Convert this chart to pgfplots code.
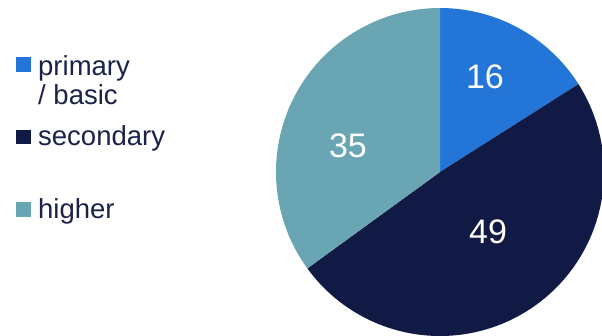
\documentclass[border=0pt]{standalone}
\usepackage{pgfplots}
\pgfplotsset{compat=1.18}
\usepackage{pgfplotstable}
\usepackage{fontspec}
\setmainfont{Liberation Sans}
\definecolor{cprim}{HTML}{2475D8}
\definecolor{csec}{HTML}{111A44}
\definecolor{chigh}{HTML}{6AA5B3}
\definecolor{ctext}{HTML}{1B2249}
\pgfplotstableread{
label value
primary 16
secondary 49
higher 35
}\piedata
\pgfplotstablegetelem{0}{value}\of\piedata \let\vA\pgfplotsretval
\pgfplotstablegetelem{1}{value}\of\piedata \let\vB\pgfplotsretval
\pgfplotstablegetelem{2}{value}\of\piedata \let\vC\pgfplotsretval
\pgfmathsetmacro\aA{90}
\pgfmathsetmacro\aB{\aA-3.6*\vA}
\pgfmathsetmacro\aC{\aB-3.6*\vB}
\pgfmathsetmacro\aD{\aC-3.6*\vC}
\begin{document}
\begin{tikzpicture}[x=1pt,y=1pt]
\useasboundingbox (0pt,0pt) rectangle (602pt,335pt);
\begin{axis}[at={(440pt,163pt)}, anchor=center, scale only axis,
  width=328pt, height=328pt, xmin=-1, xmax=1, ymin=-1, ymax=1,
  hide axis, clip=false]
\addplot[fill=cprim, draw=none, domain=\aB:\aA, samples=80, variable=\t]
  ({cos(\t)},{sin(\t)}) -- (axis cs:0,0) -- cycle;
\addplot[fill=csec, draw=none, domain=\aC:\aB, samples=150, variable=\t]
  ({cos(\t)},{sin(\t)}) -- (axis cs:0,0) -- cycle;
\addplot[fill=chigh, draw=none, domain=\aD:\aC, samples=120, variable=\t]
  ({cos(\t)},{sin(\t)}) -- (axis cs:0,0) -- cycle;
\node[white, font=\fontsize{34}{40}\selectfont] at (axis cs:0.274,0.579) {\vA};
\node[white, font=\fontsize{34}{40}\selectfont] at (axis cs:0.293,-0.366) {\vB};
\node[white, font=\fontsize{34}{40}\selectfont] at (axis cs:-0.561,0.159) {\vC};
\end{axis}
\fill[cprim] (16pt,263pt) rectangle (31pt,278pt);
\fill[csec] (16pt,191pt) rectangle (31pt,205pt);
\fill[chigh] (16pt,118pt) rectangle (31pt,133pt);
\begin{scope}[every node/.style={anchor=base west, inner sep=0pt, text=ctext, font=\fontsize{27.5}{33}\selectfont}]
\node at (38pt,259pt) {primary};
\node at (38pt,230pt) {/ basic};
\node at (38pt,189pt) {secondary};
\node at (38pt,117pt) {higher};
\end{scope}
\end{tikzpicture}
\end{document}
